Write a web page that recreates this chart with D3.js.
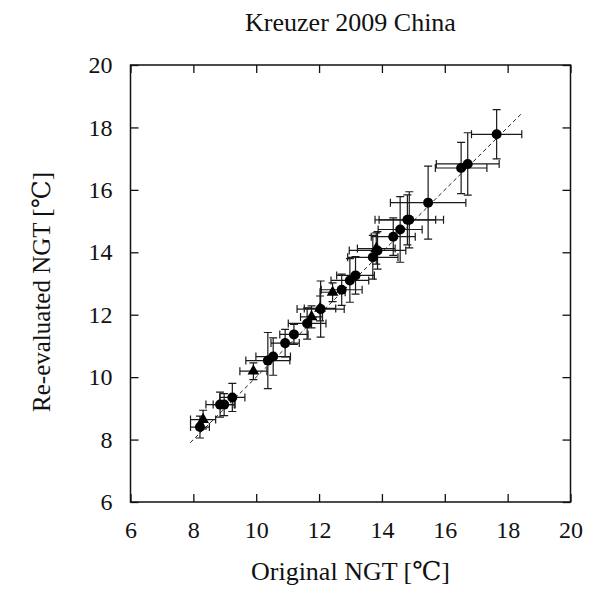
<!DOCTYPE html>
<html>
<head>
<meta charset="utf-8">
<script src="https://cdn.jsdelivr.net/npm/d3@7"></script>
<style>
	body { margin: 0; background: #fff; }
	svg text { font-family: "Liberation Serif", "DejaVu Serif", serif; fill: #111; }
</style>
</head>
<body>
<div id="chart"></div>
<script>

// circles: sites with full reconstruction
let circX    = [8.21, 8.85, 8.98, 9.24, 10.37, 10.54, 10.92, 11.20, 11.62, 12.05, 12.72, 12.98, 13.16, 13.71, 13.86, 14.36, 14.58, 14.81, 14.87, 15.47, 16.52, 16.73, 17.65];
let circY    = [8.40, 9.12, 9.12, 9.35, 10.53, 10.66, 11.09, 11.37, 11.72, 12.18, 12.80, 13.10, 13.26, 13.84, 14.06, 14.50, 14.73, 15.04, 15.04, 15.59, 16.70, 16.83, 17.78];
let circXErr = [0.30, 0.45, 0.35, 0.40, 0.70, 0.55, 0.45, 0.45, 0.60, 0.75, 0.65, 0.60, 0.60, 0.80, 0.90, 0.70, 0.70, 0.90, 1.09, 1.20, 0.82, 1.00, 0.80];
let circYErr = [0.35, 0.40, 0.35, 0.45, 0.90, 0.60, 0.44, 0.32, 0.50, 0.90, 0.50, 0.70, 0.60, 0.70, 0.60, 0.60, 1.05, 0.80, 0.90, 1.17, 0.82, 1.00, 0.79];

// triangles
let triX    = [8.31, 9.91, 11.76, 12.03, 12.43, 13.82];
let triY    = [8.64, 10.19, 11.93, 12.20, 12.72, 14.12];
let triXErr = [0.40, 0.43, 0.35, 0.50, 0.40, 0.60];
let triYErr = [0.30, 0.27, 0.35, 0.40, 0.30, 0.50];

// 1:1 reference line
let refLine = [7.9, 18.45];

let tickValues = [6, 8, 10, 12, 14, 16, 18, 20];

let width = 590,
	height = 597;

let mLeft = 130.5, mRight = 570.5, mTop = 65, mBottom = 502;

let svg = d3.select("#chart")
	.append("svg")
		.attr("width", width)
		.attr("height", height);

let x = d3.scaleLinear().domain([6, 20]).range([mLeft, mRight]);
let y = d3.scaleLinear().domain([6, 20]).range([mBottom, mTop]);

function styleAxis(g)
{
	g.select(".domain").remove();
	g.selectAll(".tick line").attr("stroke", "#111").attr("stroke-width", 1.3);
	g.selectAll("text").style("font-size", "24px");
}

svg.append("g")
	.attr("transform", "translate(0," + mBottom + ")")
	.call(d3.axisBottom(x).tickValues(tickValues).tickSizeInner(-8).tickSizeOuter(0).tickPadding(19))
	.call(styleAxis);

svg.append("g")
	.attr("transform", "translate(0," + mTop + ")")
	.call(d3.axisTop(x).tickValues(tickValues).tickSizeInner(-8).tickSizeOuter(0).tickFormat(""))
	.call(styleAxis);

svg.append("g")
	.attr("transform", "translate(" + mLeft + ",0)")
	.call(d3.axisLeft(y).tickValues(tickValues).tickSizeInner(-8).tickSizeOuter(0).tickPadding(18))
	.call(styleAxis);

svg.append("g")
	.attr("transform", "translate(" + mRight + ",0)")
	.call(d3.axisRight(y).tickValues(tickValues).tickSizeInner(-8).tickSizeOuter(0).tickFormat(""))
	.call(styleAxis);

// frame
svg.append("rect")
	.attr("x", mLeft)
	.attr("y", mTop)
	.attr("width", mRight - mLeft)
	.attr("height", mBottom - mTop)
	.attr("fill", "none")
	.attr("stroke", "#111")
	.attr("stroke-width", 1.5);

// dashed 1:1 line
svg.append("line")
	.attr("x1", x(refLine[0])).attr("y1", y(refLine[0]))
	.attr("x2", x(refLine[1])).attr("y2", y(refLine[1]))
	.attr("stroke", "#222")
	.attr("stroke-width", 1)
	.attr("stroke-dasharray", "4,3");

let circles = circX.map(function(d, i) { return {x: d, y: circY[i], xe: circXErr[i], ye: circYErr[i]}; });
let triangles = triX.map(function(d, i) { return {x: d, y: triY[i], xe: triXErr[i], ye: triYErr[i]}; });

let cap = 4;

function drawErrors(data)
{
	let g = svg.append("g")
		.attr("stroke", "#1a1a1a")
		.attr("stroke-width", 1.2)
		.attr("fill", "none");

	g.selectAll("path")
		.data(data)
		.enter()
		.append("path")
		.attr("d", function(d) {
			let x0 = x(d.x - d.xe), x1 = x(d.x + d.xe), cx = x(d.x);
			let y0 = y(d.y - d.ye), y1 = y(d.y + d.ye), cy = y(d.y);
			return "M" + x0 + "," + cy + "H" + x1 +
				"M" + x0 + "," + (cy - cap) + "V" + (cy + cap) +
				"M" + x1 + "," + (cy - cap) + "V" + (cy + cap) +
				"M" + cx + "," + y0 + "V" + y1 +
				"M" + (cx - cap) + "," + y0 + "H" + (cx + cap) +
				"M" + (cx - cap) + "," + y1 + "H" + (cx + cap);
		});
}

drawErrors(circles);
drawErrors(triangles);

svg.append("g")
	.selectAll("circle")
	.data(circles)
	.enter()
	.append("circle")
	.attr("cx", function(d) { return x(d.x); })
	.attr("cy", function(d) { return y(d.y); })
	.attr("r", 5)
	.attr("fill", "#000");

svg.append("g")
	.selectAll("path")
	.data(triangles)
	.enter()
	.append("path")
	.attr("transform", function(d) { return "translate(" + x(d.x) + "," + y(d.y) + ")"; })
	.attr("d", d3.symbol().type(d3.symbolTriangle).size(60))
	.attr("fill", "#000");

// labels
svg.append("text")
	.attr("x", (mLeft + mRight) / 2)
	.attr("y", 31)
	.attr("text-anchor", "middle")
	.style("font-size", "26px")
	.text("Kreuzer 2009 China");

svg.append("text")
	.attr("x", (mLeft + mRight) / 2)
	.attr("y", 580)
	.attr("text-anchor", "middle")
	.style("font-size", "26px")
	.text("Original NGT [℃]");

svg.append("text")
	.attr("transform", "translate(50,292) rotate(-90)")
	.attr("text-anchor", "middle")
	.style("font-size", "25px")
	.text("Re-evaluated NGT [℃]");

</script>
</body>
</html>
